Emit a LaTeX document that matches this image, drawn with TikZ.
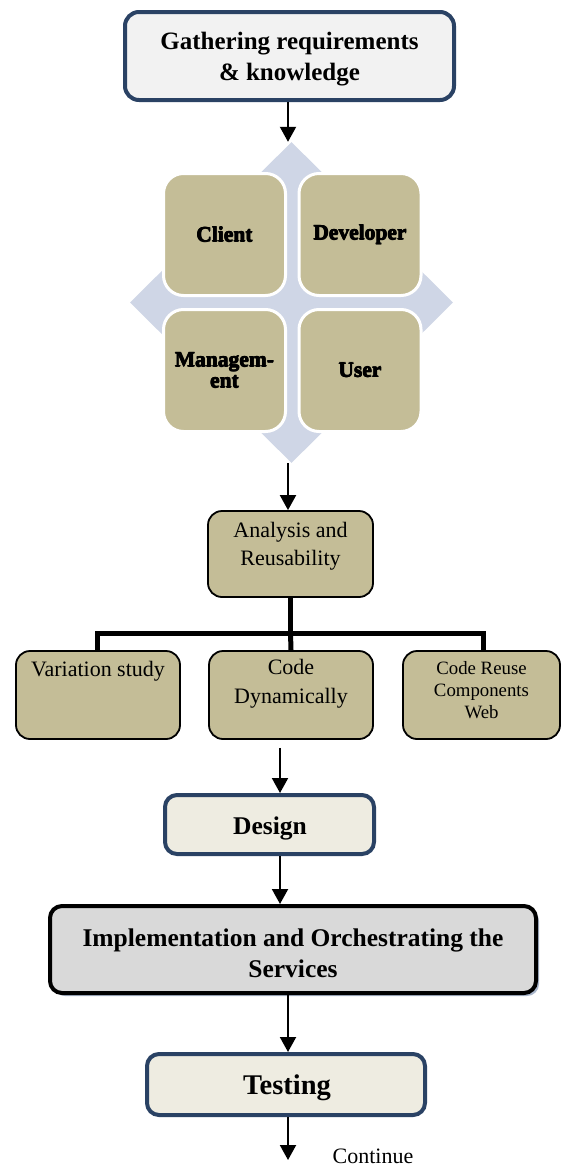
\documentclass[tikz,border=0pt]{standalone}
\usepackage{fontspec}
\setmainfont{Liberation Serif}
\usetikzlibrary{arrows.meta,shapes.geometric,shadows}
\definecolor{dblue}{HTML}{2A4264}
\definecolor{tanc}{HTML}{C4BD97}
\definecolor{lightc}{HTML}{EEECE1}
\definecolor{topfill}{HTML}{F2F2F2}
\definecolor{implfill}{HTML}{D9D9D9}
\definecolor{diacol}{HTML}{CFD6E6}
\definecolor{shadowcol}{HTML}{A9B6CB}
\newcommand\hvy[1]{\rlap{\kern0.7pt #1}\rlap{\kern0.35pt\raise0.5pt\hbox{#1}}\rlap{\kern0.35pt\lower0.4pt\hbox{#1}}#1\kern0.7pt}
\tikzset{
  bluebox/.style={draw=dblue, line width=4pt, rounded corners=12pt, fill=lightc, inner sep=0pt, align=center},
  tanbox/.style={draw=black, line width=1.8pt, rounded corners=14pt, fill=tanc, inner sep=0pt},
  sqbox/.style={draw=white, line width=3pt, fill=tanc, rounded corners=20pt, minimum size=122pt, inner sep=0pt, align=center, font=\bfseries\fontsize{21.5}{21}\selectfont},
  arr/.style={line width=2pt, -{Triangle[width=16pt,length=15pt]}},
  tree/.style={line width=5pt, line join=miter},
  lbl/.style={inner sep=0pt, align=center}
}
\begin{document}
\begin{tikzpicture}[x=1pt,y=-1pt]
\useasboundingbox (0,0) rectangle (562,1167);
% top
\node[bluebox, fill=topfill, minimum width=329pt, minimum height=88pt, rounded corners=14pt] (top) at (289.5,56) {};
\node[lbl, font=\bfseries\fontsize{25}{31}\selectfont] (topt) at (289.5,59) {Gathering requirements\\\& knowledge};
% diamond background
\node[diamond, fill=diacol, inner sep=0pt, minimum width=323pt, minimum height=321pt] (dia) at (291.5,302.5) {};
% squares
\node[sqbox] (client) at (224.5,234.5) {\hvy{Client}};
\node[sqbox] (dev) at (360,234.5) {\hvy{Developer}};
\node[sqbox] (mgmt) at (224.5,370.5) {\hvy{Managem-}\\\hvy{ent}};
\node[sqbox] (user) at (360,370.5) {\hvy{User}};
% analysis
\node[tanbox, minimum width=165pt, minimum height=86pt] (ana) at (290.5,554) {};
\node[lbl, font=\fontsize{22}{28}\selectfont] (anat) at (290.5,546) {Analysis and\\Reusability};
% children
\node[tanbox, minimum width=164pt, minimum height=88pt] (c1) at (98,695) {};
\node[tanbox, minimum width=164pt, minimum height=88pt] (c2) at (291,695) {};
\node[tanbox, minimum width=157pt, minimum height=88pt] (c3) at (481.5,695) {};
\node[lbl, font=\fontsize{22}{29}\selectfont] (c1t) at (98,671) {Variation study};
\node[lbl, font=\fontsize{22}{29}\selectfont] (c2t) at (291,684) {Code\\Dynamically};
\node[lbl, font=\fontsize{18.8}{22}\selectfont] (c3t) at (481.5,690) {Code Reuse\\Components\\Web};
% design
\node[bluebox, minimum width=209pt, minimum height=59pt] (des) at (269.5,824.5) {};
\node[lbl, font=\bfseries\fontsize{25.5}{31}\selectfont] (dest) at (270,828) {Design};
% implementation
\node[bluebox, draw=black, fill=implfill, minimum width=486pt, minimum height=87pt,
  general shadow={fill=shadowcol, shadow xshift=3pt, shadow yshift=-3pt}] (impl) at (293,949.5) {};
\node[lbl, font=\bfseries\fontsize{25.5}{31}\selectfont] (implt) at (293,953) {Implementation and Orchestrating the\\Services};
% testing
\node[bluebox, minimum width=278pt, minimum height=61pt] (test) at (286,1084.5) {};
\node[lbl, font=\bfseries\fontsize{28.5}{31}\selectfont] (testt) at (287,1088) {Testing};
\node[lbl, anchor=base, font=\fontsize{22}{26}\selectfont] (cont) at (373,1163) {Continue};
\coordinate (end) at (288,1160);
% connectors
\draw[arr] (top.south -| 288,0) -- (dia.north -| 288,0);
\draw[arr] (dia.south -| 288,0) -- (ana.north -| 288,0);
\coordinate (bar) at (0,633);
\draw[tree] (ana.south) -- (ana.south |- bar);
\draw[tree] (c1.north -| 97,0) -- (bar -| 97,0) -- (bar -| 483,0) -- (c3.north -| 483,0);
\draw[tree] (ana.south |- bar) -- (c2.north);
\draw[arr, shorten <=8pt] (c2.south -| 280,0) -- (des.north -| 280,0);
\draw[arr] (des.south -| 280,0) -- (impl.north -| 280,0);
\draw[arr] (impl.south -| 288,0) -- (test.north -| 288,0);
\draw[arr] (test.south -| end) -- (end);
\end{tikzpicture}
\end{document}
